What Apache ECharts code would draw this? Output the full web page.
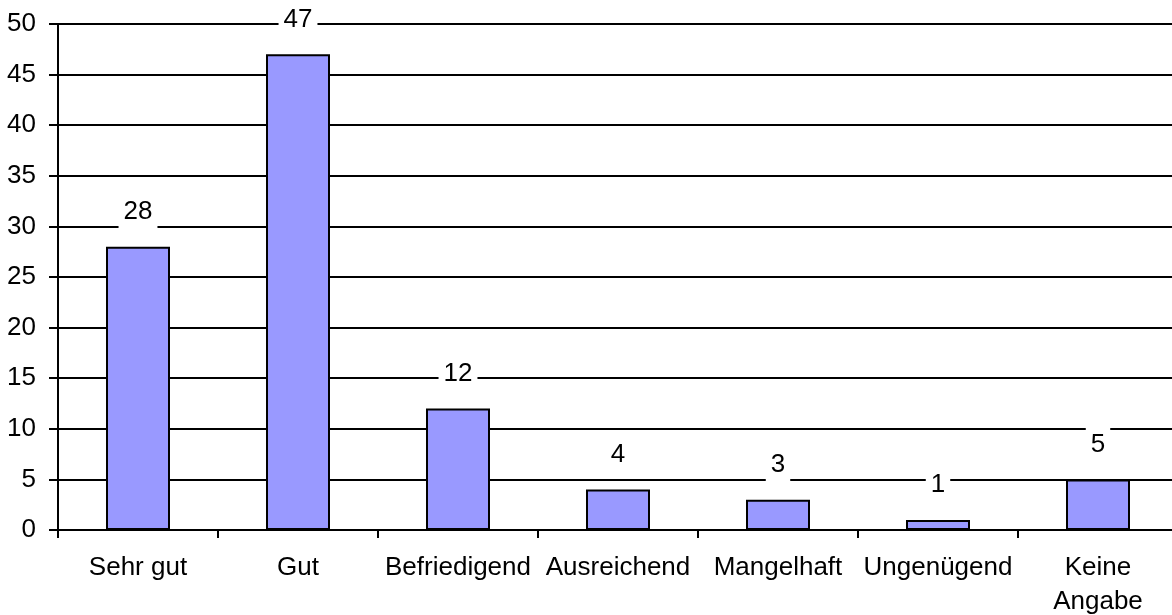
<!DOCTYPE html>
<html>
<head>
<meta charset="utf-8">
<script src="https://cdn.jsdelivr.net/npm/echarts@6/dist/echarts.min.js"></script>
<style>
html, body { margin: 0; padding: 0; background: #fff; }
#chart { width: 1172px; height: 615px; }
</style>
</head>
<body>
<div id="chart"></div>
<script>
var categories = ['Sehr gut', 'Gut', 'Befriedigend', 'Ausreichend', 'Mangelhaft', 'Ungenügend', 'Keine\nAngabe'];
var values = [28, 47, 12, 4, 3, 1, 5];

var chart = echarts.init(document.getElementById('chart'));
var font = '"Liberation Sans", Arial, sans-serif';

var option = {
	animation: false,
	grid: { left: 58, top: 24, width: 1120, height: 506, outerBoundsMode: 'none', containLabel: false },
	xAxis: {
		type: 'category',
		data: categories,
		axisLine: { lineStyle: { color: '#000', width: 2 } },
		axisTick: { show: true, length: 8, lineStyle: { color: '#000', width: 2 } },
		axisLabel: { color: '#000', fontFamily: font, fontSize: 26, lineHeight: 34, margin: 21, interval: 0 },
		splitLine: { show: false }
	},
	yAxis: {
		type: 'value',
		min: 0,
		max: 50,
		interval: 5,
		axisLine: { show: true, lineStyle: { color: '#000', width: 2 } },
		axisTick: { show: true, length: 9, lineStyle: { color: '#000', width: 2 } },
		axisLabel: { color: '#000', fontFamily: font, fontSize: 26, margin: 22 },
		splitLine: { lineStyle: { color: '#000', width: 2 } }
	},
	series: [
		{
			type: 'bar',
			data: values,
			barWidth: 64,
			itemStyle: { color: '#9999ff', borderColor: '#000', borderWidth: 2 },
			label: {
				show: true,
				position: 'top',
				distance: 18,
				color: '#000',
				fontFamily: font,
				fontSize: 26,
				backgroundColor: '#fff',
				padding: [6, 5, 4, 5]
			}
		}
	]
};
chart.setOption(option);
</script>
</body>
</html>
